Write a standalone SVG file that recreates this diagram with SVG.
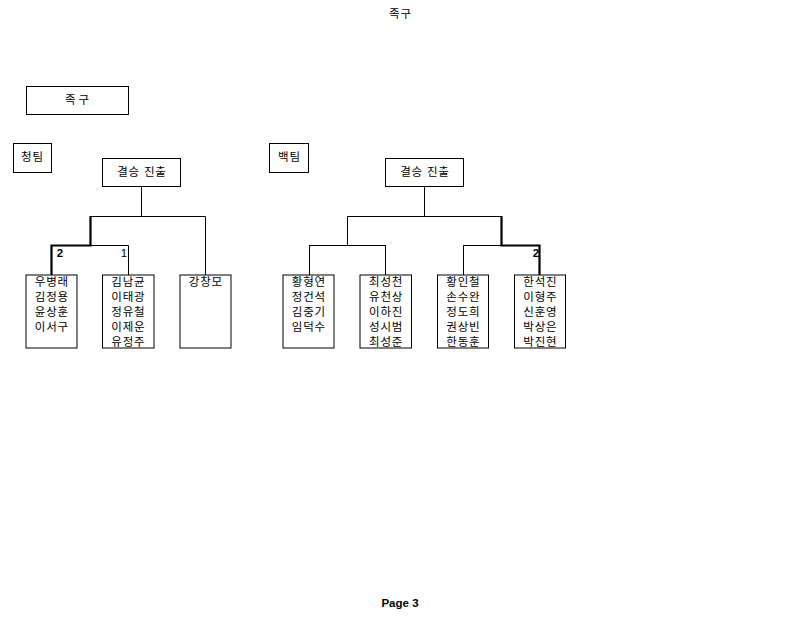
<svg xmlns="http://www.w3.org/2000/svg" width="800" height="618" viewBox="0 0 800 618">
<style>
text{font-family:"Liberation Sans","Noto Sans CJK KR",sans-serif;font-size:11.5px;letter-spacing:0.8px;fill:#000;text-anchor:middle}
.b{fill:#fff;stroke:#000;stroke-width:1}
.l{fill:none;stroke:#000;stroke-width:1}
.t{fill:none;stroke:#000;stroke-width:2.2}
.n{font-weight:bold;letter-spacing:0}
</style>
<rect width="800" height="618" fill="#fff"/>
<text x="400.4" y="18">족구</text>
<text x="400" y="607" class="n">Page 3</text>
<g id="title-box"><rect class="b" x="26.5" y="86.5" width="102" height="28"/><text x="78.5" y="104" style="letter-spacing:3px">족구</text></g>
<g id="team-blue"><rect class="b" x="13.5" y="143.5" width="38" height="29"/><text x="32.4" y="161">청팀</text></g>
<g id="team-white"><rect class="b" x="269.5" y="143.5" width="39" height="29"/><text x="289.4" y="161">백팀</text></g>
<g id="connectors">
<path class="l" d="M141.5 186V216.5M90.5 216.5H205.5V275M90.5 245.5H128.5V275"/>
<path class="t" d="M90.5 216V245.5H51.5V275"/>
<path class="l" d="M424.5 186V216.5M347.5 216.5H501.5M347.5 216.5V245.5M309.5 245.5H385.5M309.5 245V275M385.5 245V275M463.5 245.5H501.5M463.5 245V275"/>
<path class="t" d="M501.5 216V245.5H539.5V275"/>
<text x="60" y="257" class="n">2</text>
<text x="124" y="257" style="letter-spacing:0">1</text>
<text x="536" y="257" class="n">2</text>
</g>
<g id="final-blue"><rect class="b" x="102.5" y="158.5" width="78" height="28"/><text x="141.9" y="176">결승 진출</text></g>
<g id="final-white"><rect class="b" x="385.5" y="158.5" width="78" height="28"/><text x="424.9" y="176">결승 진출</text></g>
<g id="b1"><rect class="b" x="26" y="275" width="51" height="73"/><text x="51.9" y="286">우병래</text><text x="51.9" y="301">김정용</text><text x="51.9" y="316">윤상훈</text><text x="51.9" y="331">이서구</text></g>
<g id="b2"><rect class="b" x="102.5" y="275" width="51.5" height="73"/><text x="128.4" y="286">김남균</text><text x="128.4" y="301">이태광</text><text x="128.4" y="316">정유철</text><text x="128.4" y="331">이제운</text><text x="128.4" y="346">유정주</text></g>
<g id="b3"><rect class="b" x="180" y="275" width="51" height="73"/><text x="205.9" y="286">강창모</text></g>
<g id="w1"><rect class="b" x="283" y="275" width="51" height="73"/><text x="308.9" y="286">황형연</text><text x="308.9" y="301">정건석</text><text x="308.9" y="316">김중기</text><text x="308.9" y="331">임덕수</text></g>
<g id="w2"><rect class="b" x="360" y="275" width="51.5" height="73"/><text x="386.1" y="286">최성천</text><text x="386.1" y="301">유천상</text><text x="386.1" y="316">이하진</text><text x="386.1" y="331">성시범</text><text x="386.1" y="346">최성준</text></g>
<g id="w3"><rect class="b" x="437.5" y="275" width="51" height="73"/><text x="463.4" y="286">황인철</text><text x="463.4" y="301">손수완</text><text x="463.4" y="316">정도희</text><text x="463.4" y="331">권상빈</text><text x="463.4" y="346">한동훈</text></g>
<g id="w4"><rect class="b" x="514.5" y="275" width="51" height="73"/><text x="540.4" y="286">한석진</text><text x="540.4" y="301">이형주</text><text x="540.4" y="316">신훈영</text><text x="540.4" y="331">박상은</text><text x="540.4" y="346">박진현</text></g>
</svg>
